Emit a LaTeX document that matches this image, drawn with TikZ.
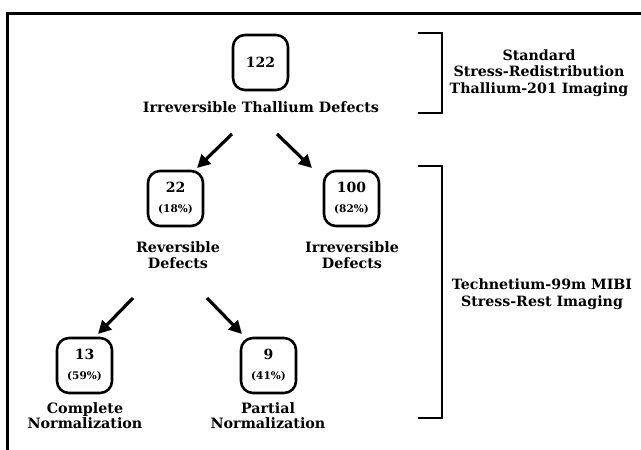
\documentclass[tikz,border=0pt]{standalone}
\usepackage{fontspec}
\setmainfont{DejaVu Serif}
\usetikzlibrary{arrows.meta}
\tikzset{
  rbox/.style={draw, line width=2.6pt, rounded corners=12pt, minimum width=55pt, minimum height=55pt, inner sep=0pt, align=center, font=\bfseries\fontsize{14}{20}\selectfont},
  lbl/.style={align=center, inner sep=0pt, font=\bfseries\fontsize{14.3}{15.5}\selectfont},
  side/.style={align=center, inner sep=0pt, font=\bfseries\fontsize{14.2}{16.8}\selectfont},
  arr/.style={line width=3.2pt, -{Triangle[length=13pt,width=13pt]}},
  brk/.style={line width=2.6pt}
}
\newcommand{\pc}[1]{{\fontsize{10.5}{12}\selectfont #1}}
\begin{document}
\begin{tikzpicture}[x=1pt,y=-1pt]
\useasboundingbox (0,0) rectangle (641,450);
% frame
\draw[line width=3pt] (7,452) -- (7,13) -- (643,13);
% nodes
\node[rbox] (b122) at (260.5,62.5) {122};
\node[lbl] (l122) at (261,107) {Irreversible Thallium Defects};
\node[rbox] (b22) at (175.5,198.5) {22\\\pc{(18\%)}};
\node[rbox] (b100) at (351.5,198.5) {100\\\pc{(82\%)}};
\node[lbl] (l22) at (178,255) {Reversible\\Defects};
\node[lbl] (l100) at (352,255) {Irreversible\\Defects};
\node[rbox] (b13) at (84.5,365.5) {13\\\pc{(59\%)}};
\node[rbox] (b9) at (268.5,365.5) {9\\\pc{(41\%)}};
\node[lbl] (l13) at (85,415.5) {Complete\\Normalization};
\node[lbl] (l9) at (268,415.5) {Partial\\Normalization};
% arrows
\coordinate (a1s) at (232,134); \coordinate (a1e) at (197,168);
\coordinate (a2s) at (277,134); \coordinate (a2e) at (312,168);
\coordinate (a3s) at (133,298); \coordinate (a3e) at (98,334);
\coordinate (a4s) at (207,298); \coordinate (a4e) at (242,334);
\draw[arr] (a1s) -- (a1e);
\draw[arr] (a2s) -- (a2e);
\draw[arr] (a3s) -- (a3e);
\draw[arr] (a4s) -- (a4e);
% brackets
\draw[brk] (418,33) -- (442,33) -- (442,113) -- (418,113);
\draw[brk] (418,166) -- (442,166) -- (442,418) -- (418,418);
\node[side] (t1) at (539,73) {Standard\\Stress-Redistribution\\Thallium-201 Imaging};
\node[side] (t2) at (542,294.5) {Technetium-99m MIBI\\Stress-Rest Imaging};
\end{tikzpicture}
\end{document}
